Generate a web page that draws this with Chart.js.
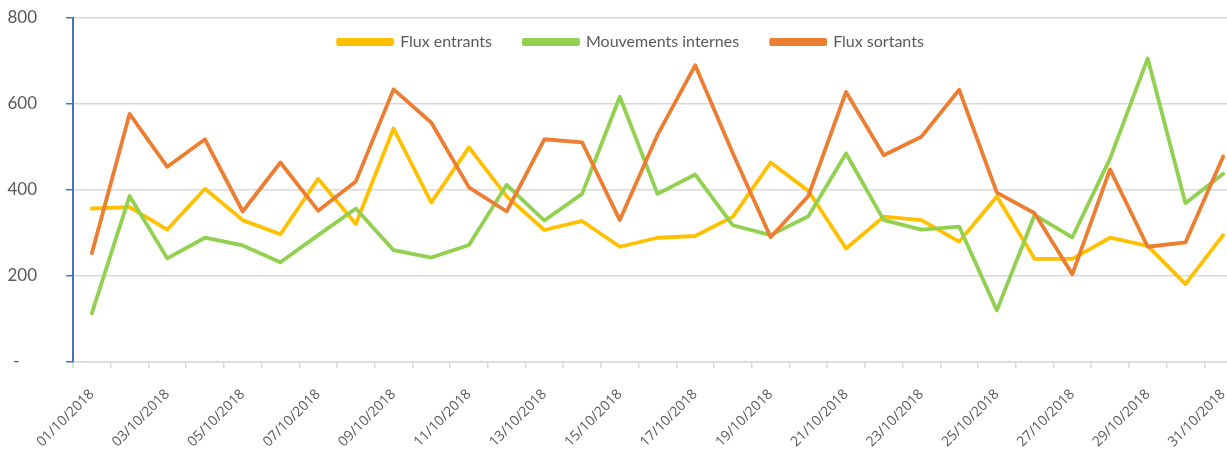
<!DOCTYPE html>
<html>
<head>
<meta charset="utf-8">
<script src="https://cdn.jsdelivr.net/npm/chart.js@4.4.0/dist/chart.umd.min.js"></script>
<style>
  html, body { margin: 0; padding: 0; background: #fff; overflow: hidden; }
  #wrap { width: 1242px; height: 450px; position: relative; }
</style>
</head>
<body>
<div id="wrap"><canvas id="fluxChart"></canvas></div>
<script>
const days = [
    '01/10/2018', '02/10/2018', '03/10/2018', '04/10/2018', '05/10/2018', '06/10/2018',
    '07/10/2018', '08/10/2018', '09/10/2018', '10/10/2018', '11/10/2018', '12/10/2018',
    '13/10/2018', '14/10/2018', '15/10/2018', '16/10/2018', '17/10/2018', '18/10/2018',
    '19/10/2018', '20/10/2018', '21/10/2018', '22/10/2018', '23/10/2018', '24/10/2018',
    '25/10/2018', '26/10/2018', '27/10/2018', '28/10/2018', '29/10/2018', '30/10/2018',
    '31/10/2018'
]
const fluxEntrants = [357, 360, 308, 403, 330, 297, 426, 321, 543, 371, 499, 385, 307, 328, 268, 289,
    293, 338, 464, 398, 264, 338, 330, 280, 385, 240, 240, 289, 270, 181, 295]
const mouvementsInternes = [113, 386, 241, 289, 271, 232, 295, 357, 260, 243, 272, 412, 329, 391, 617, 391,
    436, 318, 295, 339, 485, 330, 308, 315, 120, 342, 290, 473, 706, 369, 438]
const fluxSortants = [253, 577, 454, 518, 350, 464, 352, 420, 634, 557, 406, 350, 518, 511, 330, 528,
    690, 485, 290, 386, 628, 481, 524, 633, 394, 346, 204, 448, 268, 278, 478]
const yTickLabels = ['-    ', '200', '400', '600', '800']

const textGrey = '#595959'
const gridGrey = '#D9D9D9'

// legend sits inside the plot, like in the excel export
const legendInside = {
    id: 'legendInside',
    beforeInit(chart) {
        const fit = chart.legend.fit
        chart.legend.fit = function () {
            fit.bind(chart.legend)()
            this.height = 0
        }
    },
    afterLayout(chart) {
        // move it into place and give the clip box room again
        let legend = chart.legend
        legend.top = 2
        legend.bottom = 72
        legend.height = 70
        legend.left += 10
        legend.right += 10
    }
}

let ctx = document.getElementById('fluxChart')
new Chart(ctx, {
    type: 'line',
    data: {
        labels: days,
        datasets: [
            {
                label: 'Flux entrants',
                data: fluxEntrants,
                borderColor: '#FFC000',
                backgroundColor: '#FFC000',
                order: 2
            },
            {
                label: 'Mouvements internes',
                data: mouvementsInternes,
                borderColor: '#92D050',
                backgroundColor: '#92D050',
                order: 1
            },
            {
                label: 'Flux sortants',
                data: fluxSortants,
                borderColor: '#ED7D31',
                backgroundColor: '#ED7D31',
                order: 0
            }
        ]
    },
    options: {
        responsive: true,
        maintainAspectRatio: false,
        animation: false,
        layout: { padding: 0 },
        elements: {
            line: { borderWidth: 3.8, tension: 0, borderCapStyle: 'round', borderJoinStyle: 'round', fill: false },
            point: { radius: 0, hoverRadius: 0 }
        },
        plugins: {
            tooltip: { enabled: false },
            legend: {
                position: 'top',
                labels: {
                    sort: (a, b) => a.datasetIndex - b.datasetIndex,
                    boxWidth: 54,
                    boxHeight: 4,
                    padding: 32,
                    color: textGrey,
                    font: { family: 'Lato', size: 16 }
                }
            }
        },
        scales: {
            x: {
                offset: true,
                afterFit(scale) {
                    scale.height = 88
                    scale.paddingLeft = 0
                    scale.paddingRight = 0
                },
                border: { color: gridGrey, width: 1.5 },
                grid: { offset: true, drawOnChartArea: false, drawTicks: true, tickLength: 6, color: gridGrey, lineWidth: 1.5 },
                ticks: {
                    autoSkip: false,
                    maxRotation: 45,
                    minRotation: 45,
                    padding: 18,
                    color: textGrey,
                    font: { family: 'Open Sans', size: 14 },
                    callback: function (value, index) {
                        return index % 2 === 0 ? days[index] : ''
                    }
                }
            },
            y: {
                min: 0,
                max: 800,
                afterFit(scale) {
                    scale.width = 73
                    // tick padding is only meant to move labels sideways
                    scale.paddingTop = 18
                    scale.paddingBottom = 10
                },
                border: { color: '#4472C4', width: 2 },
                grid: { color: gridGrey, lineWidth: 1.5, tickColor: '#4472C4', tickLength: 7 },
                ticks: {
                    stepSize: 200,
                    padding: 29,
                    color: textGrey,
                    font: { family: 'Lato', size: 17 },
                    callback: function (value) {
                        return yTickLabels[value / 200]
                    }
                }
            }
        }
    },
    plugins: [legendInside]
})
</script>
</body>
</html>
